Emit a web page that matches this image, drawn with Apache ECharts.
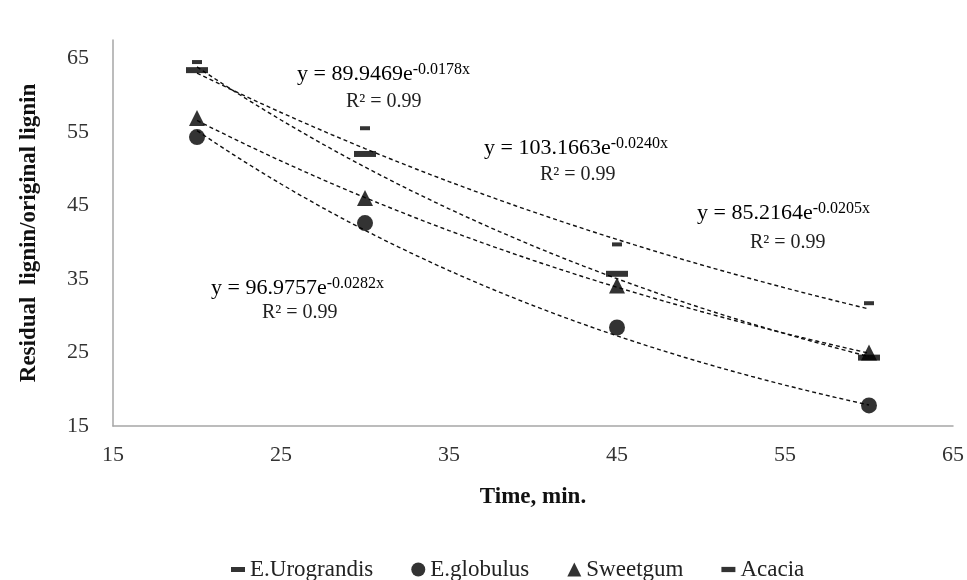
<!DOCTYPE html>
<html>
<head>
<meta charset="utf-8">
<script src="https://cdn.jsdelivr.net/npm/echarts@6/dist/echarts.min.js"></script>
<style>
  html, body { margin: 0; padding: 0; background: #fff; }
  #chart { width: 967px; height: 580px; }
</style>
</head>
<body>
<div id="chart"></div>
<script>
// Cooking time (min) at which samples were taken
const times = [20, 30, 45, 60];

// Residual lignin / original lignin (%) per wood species
const urograndis = [63.4, 52.0, 35.7, 24.3];
const globulus   = [54.3, 42.6, 28.4, 17.8];
const sweetgum   = [56.9, 46.0, 34.1, 25.0];
const acacia     = [64.5, 55.5, 39.7, 31.7];

// Exponential fits y = a * e^(b x), as printed beside each curve
const fitNames = ['Acacia', 'E.Urograndis', 'Sweetgum', 'E.globulus'];
const fitA = [89.9469, 103.1663, 85.2164, 96.9757];
const fitB = [-0.0178, -0.0240, -0.0205, -0.0282];
const fitR2 = ['0.99', '0.99', '0.99', '0.99'];

// Axis tick labels
const xTicks = [15, 25, 35, 45, 55, 65];
const yTicks = [15, 25, 35, 45, 55, 65];

const SERIF = '"Liberation Serif", "Times New Roman", serif';

function pairs(vals) {
  return times.map((t, i) => [t, vals[i]]);
}

// Sample each fitted curve across the measured time range
function fitCurve(k) {
  const pts = [];
  for (let t = times[0]; t <= times[times.length - 1]; t += 1) {
    pts.push([t, fitA[k] * Math.exp(fitB[k] * t)]);
  }
  return pts;
}

const trendSeries = fitNames.map((n, k) => ({
  name: 'trend-' + n,
  type: 'line',
  data: fitCurve(k),
  showSymbol: false,
  symbol: 'none',
  silent: true,
  z: 1,
  lineStyle: { color: '#111', width: 1.4, type: [4, 3] }
}));

const BAR = 'path://M0,0H22V6H0Z';
const DASH = 'path://M0,0H10V4H0Z';

const markerSeries = [
  { name: 'E.Urograndis', data: pairs(urograndis), symbol: BAR, symbolSize: [22, 6] },
  { name: 'E.globulus', data: pairs(globulus), symbol: 'circle', symbolSize: 16 },
  { name: 'Sweetgum', data: pairs(sweetgum), symbol: 'triangle', symbolSize: [16, 16] },
  { name: 'Acacia', data: pairs(acacia), symbol: DASH, symbolSize: [10, 4] }
].map(s => Object.assign({
  type: 'scatter',
  z: 3,
  itemStyle: { color: '#000' }
}, s));

function eqText(k) {
  const b = fitB[k].toFixed(4);
  return '{a|y = ' + fitA[k].toFixed(4) + 'e}{s|' + b + 'x}';
}
const eqRich = {
  a: { fontFamily: SERIF, fontSize: 22, color: '#222', lineHeight: 24 },
  s: { fontFamily: SERIF, fontSize: 16, color: '#222', lineHeight: 14, verticalAlign: 'top' }
};
// Annotation anchor points in px: [equation x, equation y, R² x, R² y]
const eqPos = [
  [297, 62, 346, 92],
  [484, 136, 540, 165],
  [697, 201, 750, 233],
  [211, 276, 262, 303]
];
const graphics = [];
eqPos.forEach((p, k) => {
  graphics.push({
    type: 'text', left: p[0], top: p[1],
    style: { text: eqText(k), rich: eqRich }
  });
  graphics.push({
    type: 'text', left: p[2], top: p[3],
    style: { text: 'R² = ' + fitR2[k], font: '20px ' + SERIF, fill: '#222' }
  });
});

const chart = echarts.init(document.getElementById('chart'));
chart.setOption({
  animation: false,
  backgroundColor: '#fff',
  grid: { left: 113, right: 14, top: 40, bottom: 154, containLabel: false },
  xAxis: {
    type: 'value', min: 15, max: 65, interval: 5,
    name: 'Time, min.', nameLocation: 'middle', nameGap: 60,
    nameTextStyle: { fontFamily: SERIF, fontSize: 23, fontWeight: 'bold', color: '#111' },
    axisLine: { show: true, lineStyle: { color: '#a6a6a6', width: 1.5 } },
    axisTick: { show: false },
    splitLine: { show: false },
    axisLabel: {
      margin: 18, fontFamily: SERIF, fontSize: 22, color: '#333',
      formatter: v => (xTicks.indexOf(v) >= 0 ? String(v) : '')
    }
  },
  yAxis: {
    type: 'value', min: 15, max: 67.5, interval: 5,
    name: 'Residual  lignin/original lignin', nameLocation: 'middle', nameGap: 72,
    nameTextStyle: { fontFamily: SERIF, fontSize: 23, fontWeight: 'bold', color: '#111' },
    axisLine: { show: true, lineStyle: { color: '#a6a6a6', width: 1.5 } },
    axisTick: { show: false },
    splitLine: { show: false },
    axisLabel: {
      margin: 24, fontFamily: SERIF, fontSize: 22, color: '#333',
      formatter: v => (yTicks.indexOf(v) >= 0 ? String(v) : '')
    }
  },
  legend: {
    top: 553, left: 226,
    itemWidth: 14, itemHeight: 14, itemGap: 38,
    textStyle: { fontFamily: SERIF, fontSize: 23, color: '#222' },
    data: [
      { name: 'E.Urograndis', icon: 'path://M0,0H14V5H0Z' },
      { name: 'E.globulus', icon: 'circle' },
      { name: 'Sweetgum', icon: 'triangle' },
      { name: 'Acacia', icon: 'path://M0,0H8V3H0Z' }
    ]
  },
  graphic: graphics,
  series: trendSeries.concat(markerSeries)
});
</script>
</body>
</html>
